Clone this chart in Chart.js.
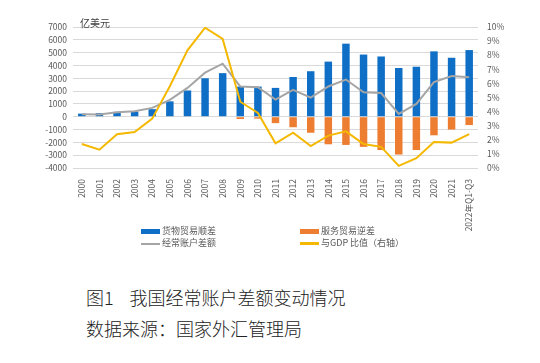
<!DOCTYPE html>
<html>
<head>
<meta charset="utf-8">
<script src="https://cdn.jsdelivr.net/npm/chart.js@4.4.0/dist/chart.umd.min.js"></script>
<style>
    body { margin: 0; background: #fff; font-family: "Noto Sans CJK SC", sans-serif; }
    #wrap { position: relative; width: 540px; height: 363px; }
    #chartBox { position: absolute; left: 0; top: 0; width: 540px; height: 245px; }
    .unit { position: absolute; left: 80px; top: 15px; font-size: 10px; color: #404040; }
    .leg { position: absolute; font-size: 9px; color: #595959; line-height: 12px; white-space: nowrap; }
    .leg i { display: inline-block; vertical-align: middle; margin-right: 2px; width: 19px; }
    .cap { position: absolute; left: 86px; font-size: 18px; color: #222; font-weight: 300; white-space: nowrap; }
</style>
</head>
<body>
<div id="wrap">
    <div id="chartBox"><canvas id="chart"></canvas></div>
    <div class="unit">亿美元</div>
    <div class="leg" style="left:141px;top:225px;"><i style="height:5px;background:#0F6FC6;"></i>货物贸易顺差</div>
    <div class="leg" style="left:300px;top:225px;"><i style="height:5px;background:#ED7D31;"></i>服务贸易逆差</div>
    <div class="leg" style="left:141px;top:237px;"><i style="height:2px;background:#A5A5A5;"></i>经常账户差额</div>
    <div class="leg" style="left:300px;top:237px;"><i style="height:3px;background:#F5B800;"></i>与GDP 比值（右轴）</div>
    <div class="cap" style="top:284px;">图1&nbsp;&nbsp;&nbsp;&nbsp;我国经常账户差额变动情况</div>
    <div class="cap" style="top:315px;">数据来源：国家外汇管理局</div>
</div>
<script>
const years = ['2000', '2001', '2002', '2003', '2004', '2005', '2006', '2007', '2008', '2009', '2010',
    '2011', '2012', '2013', '2014', '2015', '2016', '2017', '2018', '2019', '2020', '2021', '2022年Q1-Q3'];

// 亿美元
const goodsSurplus = [240, 280, 380, 400, 590, 1200, 2050, 3000, 3400, 2350, 2350,
    2250, 3100, 3550, 4300, 5700, 4850, 4700, 3800, 3900, 5100, 4600, 5200];
const serviceDeficit = [0, 0, 0, 0, 0, 0, 0, 0, 0, -180, -150,
    -500, -820, -1250, -2150, -2200, -2350, -2600, -2950, -2600, -1450, -1000, -650];
const currentAccount = [200, 175, 350, 430, 690, 1320, 2250, 3440, 4140, 2360, 2300,
    1330, 2090, 1490, 2360, 2900, 1900, 1850, 220, 1000, 2700, 3170, 3080];
// 与GDP比值 %
const gdpRatio = [1.7, 1.3, 2.4, 2.55, 3.5, 5.8, 8.35, 9.95, 9.15, 4.7, 3.9,
    1.75, 2.5, 1.55, 2.3, 2.6, 1.7, 1.5, 0.15, 0.7, 1.85, 1.8, 2.4];

const leftTicks = [-4000, 7000, 1000];
const rightTicks = [0, 10, 1];

const tickFont = { family: 'Noto Sans CJK SC', size: 8.5 };
const tickColor = '#595959';

window.onload = function () {
    let ctx = document.getElementById('chart').getContext('2d');

    new Chart(ctx, {
        type: 'bar',
        data: {
            labels: years,
            datasets: [
                {
                    type: 'line', label: '与GDP 比值（右轴）', data: gdpRatio, yAxisID: 'y2',
                    borderColor: '#F5B800', borderWidth: 2, pointRadius: 0, tension: 0, stack: 's3', order: 0
                },
                {
                    type: 'line', label: '经常账户差额', data: currentAccount, yAxisID: 'y',
                    borderColor: '#A5A5A5', borderWidth: 2, pointRadius: 0, tension: 0, stack: 's2', order: 1
                },
                {
                    label: '货物贸易顺差', data: goodsSurplus, backgroundColor: '#0F6FC6',
                    stack: 's1', barPercentage: 0.5, categoryPercentage: 0.85, order: 2
                },
                {
                    label: '服务贸易逆差', data: serviceDeficit, backgroundColor: '#ED7D31',
                    stack: 's1', barPercentage: 0.5, categoryPercentage: 0.85, order: 2
                }
            ]
        },
        options: {
            responsive: true,
            maintainAspectRatio: false,
            animation: false,
            layout: { padding: { top: 27, right: 0, left: 0, bottom: 0 } },
            plugins: { legend: { display: false }, tooltip: { enabled: false } },
            scales: {
                x: {
                    stacked: true,
                    grid: { display: false },
                    border: { display: false },
                    ticks: { font: tickFont, color: tickColor, minRotation: 90, maxRotation: 90, padding: 3, autoSkip: false },
                    afterFit: function (s) { s.height = 245 - 27 - 141; }
                },
                y: {
                    stacked: true,
                    min: leftTicks[0], max: leftTicks[1],
                    grid: { color: '#D9D9D9', drawTicks: false },
                    border: { display: false },
                    ticks: { stepSize: leftTicks[2], autoSkip: false, font: tickFont, color: tickColor, padding: 6,
                        callback: v => String(v) },
                    afterFit: function (s) { s.width = 73; }
                },
                y2: {
                    position: 'right',
                    min: rightTicks[0], max: rightTicks[1],
                    grid: { display: false, drawTicks: false },
                    border: { display: false },
                    ticks: { stepSize: rightTicks[2], autoSkip: false, font: tickFont, color: tickColor, padding: 9,
                        callback: v => v + '%' },
                    afterFit: function (s) { s.width = 62; }
                }
            }
        }
    });
}
</script>
</body>
</html>
